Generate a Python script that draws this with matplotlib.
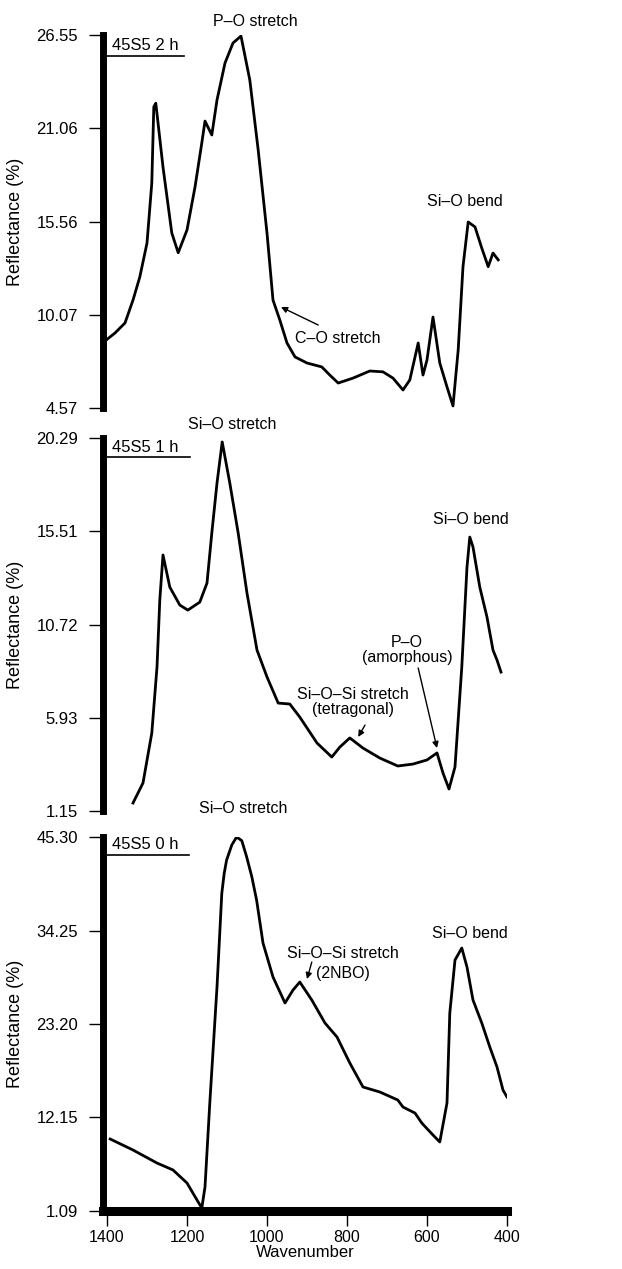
import numpy as np
import matplotlib.pyplot as plt

plt.rcParams['font.family'] = ['Liberation Sans', 'DejaVu Sans']

# 45S5 bioglass, reflectance spectra after 2 h, 1 h and 0 h in solution
wn_2h = [1405, 1380, 1355, 1335, 1318, 1300, 1288, 1283, 1278, 1260, 1238, 1222,
         1200, 1180, 1163, 1155, 1138, 1125, 1105, 1085, 1065, 1043, 1022, 1000,
         985, 968, 950, 930, 900, 863, 843, 822, 785, 743, 710, 685, 660, 643,
         622, 610, 600, 585, 568, 550, 535, 522, 510, 497, 480, 463, 447, 435, 422]
refl_2h = [8.52, 8.99, 9.58, 10.93, 12.29, 14.29, 17.83, 22.31, 22.53, 18.77, 14.88, 13.72,
           15.06, 17.59, 20.19, 21.48, 20.66, 22.72, 24.90, 26.08, 26.49, 23.90, 19.77, 14.88,
           10.93, 9.76, 8.40, 7.58, 7.22, 6.99, 6.51, 6.04, 6.33, 6.75, 6.70, 6.33, 5.63, 6.22,
           8.40, 6.51, 7.40, 9.93, 7.22, 5.81, 4.69, 7.99, 12.90, 15.53, 15.24, 13.99, 12.90, 13.70, 13.30]

wn_1h = [1335, 1310, 1288, 1275, 1268, 1260, 1243, 1218, 1198, 1168, 1150, 1138,
         1125, 1112, 1093, 1072, 1050, 1025, 1000, 972, 943, 918, 875, 838, 818,
         793, 760, 718, 673, 635, 600, 575, 560, 545, 530, 513, 500, 493, 485,
         468, 450, 435, 425, 415]
refl_1h = [1.56, 2.59, 5.15, 8.54, 11.98, 14.29, 12.64, 11.72, 11.46, 11.87, 12.85, 15.41,
           17.98, 20.09, 17.98, 15.41, 12.33, 9.41, 8.03, 6.69, 6.64, 5.97, 4.64, 3.92, 4.43,
           4.90, 4.38, 3.87, 3.46, 3.56, 3.77, 4.13, 3.10, 2.28, 3.41, 8.54, 13.67, 15.21, 14.70,
           12.64, 11.10, 9.41, 8.90, 8.28]

wn_0h = [1392, 1335, 1275, 1235, 1200, 1175, 1163, 1155, 1143, 1125, 1113, 1107,
         1101, 1088, 1076, 1063, 1051, 1038, 1026, 1010, 985, 955, 935, 918, 888,
         855, 825, 793, 760, 718, 673, 660, 630, 613, 585, 568, 550, 543, 530,
         513, 500, 485, 463, 443, 425, 410, 400]
refl_0h = [9.60, 8.30, 6.76, 5.94, 4.40, 2.39, 1.44, 3.93, 13.86, 27.57, 38.65, 41.01,
           42.58, 44.36, 45.30, 44.87, 42.98, 40.61, 37.85, 32.77, 28.75, 25.68, 27.21, 28.16,
           26.03, 23.31, 21.66, 18.59, 15.75, 15.16, 14.21, 13.38, 12.67, 11.49, 10.07, 9.25,
           13.86, 24.49, 30.76, 32.18, 29.93, 26.03, 23.31, 20.48, 18.12, 15.39, 14.57]

yticks_2h = [4.57, 10.07, 15.56, 21.06, 26.55]
yticks_1h = [1.15, 5.93, 10.72, 15.51, 20.29]
yticks_0h = [1.09, 12.15, 23.20, 34.25, 45.30]
xticks = [1400, 1200, 1000, 800, 600, 400]

fig = plt.figure(figsize=(6.22, 12.69), dpi=100)
ax_top = fig.add_axes([0.1656, 0.6785, 0.6495, 0.2939])
ax_mid = fig.add_axes([0.1656, 0.3609, 0.6495, 0.2939])
ax_bot = fig.add_axes([0.1656, 0.0457, 0.6495, 0.2947])

panels = [
    (ax_top, wn_2h, refl_2h, yticks_2h, '45S5 2 h', 0.973, 0.944, 0.20),
    (ax_mid, wn_1h, refl_1h, yticks_1h, '45S5 1 h', 0.976, 0.949, 0.215),
    (ax_bot, wn_0h, refl_0h, yticks_0h, '45S5 0 h', 0.979, 0.952, 0.213),
]

for ax, wn, refl, yt, name, ty, ly, lx in panels:
    ax.plot(wn, refl, color='black', lw=2.0, solid_joinstyle='round')
    ax.set_xlim(1410, 400)
    ax.set_ylim(yt[0], yt[-1])
    ax.set_yticks(yt)
    ax.set_yticklabels(['%.2f' % t for t in yt])
    for side in ['top', 'right', 'bottom']:
        ax.spines[side].set_visible(False)
    ax.spines['left'].set_linewidth(5)
    ax.tick_params(axis='y', direction='out', length=10, width=1.0, pad=8,
                   labelsize=12)
    ax.set_ylabel('Reflectance (%)', fontsize=13)
    ax.yaxis.set_label_coords(-0.195, 0.5)
    ax.patch.set_alpha(0)
    ax.text(0.022, ty, name, transform=ax.transAxes, fontsize=12,
            ha='left', va='center')
    ax.plot([0, lx], [ly, ly], transform=ax.transAxes, color='black', lw=1.2,
            clip_on=False)

ax_top.set_xticks([])
ax_mid.set_xticks([])

ax_bot.spines['bottom'].set_visible(True)
ax_bot.spines['bottom'].set_linewidth(6.5)
ax_bot.set_xticks(xticks)
ax_bot.tick_params(axis='x', direction='out', length=11, width=1.0, pad=3,
                   labelsize=11.5)
ax_bot.set_xlabel('Wavenumber', fontsize=12, labelpad=0)

fs = 11.5
arrow = dict(arrowstyle='-|>', color='black', lw=1.0, mutation_scale=9,
             shrinkA=0, shrinkB=0)

# 2 h panel
ax_top.text(1030, 27.32, 'P–O stretch', ha='center', va='center', fontsize=fs, clip_on=False)
ax_top.text(505, 16.71, 'Si–O bend', ha='center', va='center', fontsize=fs)
ax_top.text(822, 8.69, 'C–O stretch', ha='center', va='center', fontsize=fs)
ax_top.annotate('', xy=(965, 10.52), xytext=(872, 9.46), arrowprops=arrow)

# 1 h panel
ax_mid.text(1087, 21.01, 'Si–O stretch', ha='center', va='center', fontsize=fs, clip_on=False)
ax_mid.text(490, 16.13, 'Si–O bend', ha='center', va='center', fontsize=fs)
ax_mid.text(650, 9.41, 'P–O\n(amorphous)', ha='center', va='center', fontsize=fs,
            linespacing=1.0)
ax_mid.annotate('', xy=(575, 4.38), xytext=(622, 8.49), arrowprops=arrow)
ax_mid.text(785, 6.74, 'Si–O–Si stretch\n(tetragonal)', ha='center', va='center',
            fontsize=fs, linespacing=1.0)
ax_mid.annotate('', xy=(772, 4.95), xytext=(755, 5.56), arrowprops=arrow)

# 0 h panel
ax_bot.text(1060, 48.73, 'Si–O stretch', ha='center', va='center', fontsize=fs, clip_on=False)
ax_bot.text(492, 33.95, 'Si–O bend', ha='center', va='center', fontsize=fs)
ax_bot.text(810, 31.59, 'Si–O–Si stretch', ha='center', va='center', fontsize=fs)
ax_bot.text(810, 29.22, '(2NBO)', ha='center', va='center', fontsize=fs)
ax_bot.annotate('', xy=(900, 28.51), xytext=(888, 30.52), arrowprops=arrow)

fig.savefig('out.png', dpi=100)
